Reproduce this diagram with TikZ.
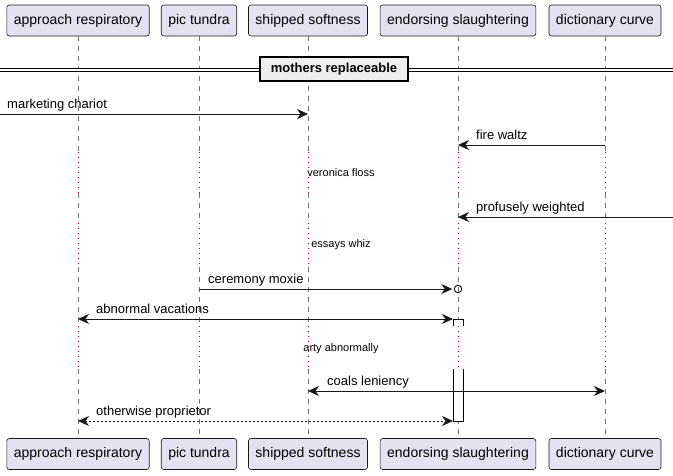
\documentclass[tikz,border=0pt]{standalone}
\usepackage{fontspec}
\setmainfont{Liberation Sans}
\usetikzlibrary{arrows.meta}

\definecolor{partfill}{HTML}{E2E2F0}
\definecolor{partline}{HTML}{181818}
\definecolor{delayred}{HTML}{A80036}
\definecolor{sepfill}{HTML}{EEEEEE}

\tikzset{pumltip/.tip={Stealth[length=11pt,width=10pt,inset=3.5pt]}}

\begin{document}
\begin{tikzpicture}[x=1pt, y=-1pt,
                    partbox/.style={draw=partline, fill=partfill, rounded corners=2.5pt, line width=0.6pt,
                                    minimum height=31pt, inner xsep=7pt, font=\fontsize{14}{16}\selectfont},
                    msgtext/.style={anchor=base west, inner sep=0pt, font=\fontsize{13}{15}\selectfont},
                    delaytext/.style={inner sep=0pt, font=\fontsize{11}{13}\selectfont},
                    lifeline/.style={draw=black!55, line width=0.6pt, dash pattern=on 5pt off 5pt},
                    delayline/.style={draw=delayred, line width=0.8pt, dash pattern=on 1pt off 4pt},
                    msg/.style={draw=black!90, line width=0.9pt, -pumltip},
                    msgboth/.style={draw=black!90, line width=0.9pt, pumltip-pumltip},
                    reply/.style={msgboth, dash pattern=on 2pt off 2pt}]

  \useasboundingbox (0,0) rectangle (673,475);

  % Participants, top row
  \node[partbox] (resp)    at (78,20.5)  {approach respiratory};
  \node[partbox] (tundra)  at (199,20.5) {pic tundra};
  \node[partbox] (soft)    at (308,20.5) {shipped softness};
  \node[partbox] (slaught) at (458,20.5) {endorsing slaughtering};
  \node[partbox] (curve)   at (605,20.5) {dictionary curve};

  % Participants, bottom row
  \node[partbox] (resp-b)    at (78,454)  {approach respiratory};
  \node[partbox] (tundra-b)  at (199,454) {pic tundra};
  \node[partbox] (soft-b)    at (308,454) {shipped softness};
  \node[partbox] (slaught-b) at (458,454) {endorsing slaughtering};
  \node[partbox] (curve-b)   at (605,454) {dictionary curve};

  % Delay bounds
  \coordinate (dA1) at (0,152); \coordinate (dA2) at (0,193);
  \coordinate (dB1) at (0,223); \coordinate (dB2) at (0,267);
  \coordinate (dC1) at (0,326); \coordinate (dC2) at (0,369);

  % Lifelines
  \foreach \p in {resp,tundra,soft,slaught,curve}{
    \draw[lifeline]  (\p.south)  -- (\p |- dA1);
    \draw[delayline] (\p |- dA1) -- (\p |- dA2);
    \draw[lifeline]  (\p |- dA2) -- (\p |- dB1);
    \draw[delayline] (\p |- dB1) -- (\p |- dB2);
    \draw[lifeline]  (\p |- dB2) -- (\p |- dC1);
    \draw[delayline] (\p |- dC1) -- (\p |- dC2);
    \draw[lifeline]  (\p |- dC2) -- (\p-b.north);
  }

  % Divider
  \coordinate (sepL) at (0,70);
  \coordinate (sepR) at (673,70);
  \draw[double, double distance=2.6pt, line width=0.9pt] (sepL) -- (sepR);
  \node[draw, line width=1.6pt, fill=sepfill, minimum width=148pt, minimum height=24pt, inner sep=0pt,
        font=\fontsize{13}{15}\selectfont\bfseries] (sep) at (334,69) {mothers replaceable};

  % Message rows
  \coordinate (m1) at (0,114);
  \coordinate (m2) at (0,145);
  \coordinate (m3) at (673,217);
  \coordinate (m4) at (0,289);
  \coordinate (m5) at (0,319);
  \coordinate (m6) at (0,391);
  \coordinate (m7) at (0,421);

  \draw[msg] (m1) -- (soft |- m1);
  \node[msgtext] at ([xshift=7pt, yshift=6pt]m1) {marketing chariot};

  \draw[msg] (curve |- m2) -- (slaught |- m2);
  \node[msgtext] at ([xshift=18pt, yshift=6pt]slaught |- m2) {fire waltz};

  \node[delaytext] (delayA) at (341,173) {veronica floss};

  \draw[msg] (m3) -- (slaught |- m3);
  \node[msgtext] at ([xshift=18pt, yshift=6pt]slaught |- m3) {profusely weighted};

  \node[delaytext] (delayB) at (341,245) {essays whiz};

  \node[circle, draw, line width=0.9pt, inner sep=0pt, minimum size=7.5pt] (lost) at (slaught |- m4) {};
  \draw[msg, shorten >=1.5pt] (tundra |- m4) -- (lost.west);
  \node[msgtext] at ([xshift=9pt, yshift=6pt]tundra |- m4) {ceremony moxie};

  % Activation bar
  \coordinate (actL) at ([xshift=-5pt]slaught.south);
  \coordinate (actR) at ([xshift=5pt]slaught.south);
  \fill[white] (actL |- m5) rectangle (actR |- dC1);
  \draw[line width=0.9pt] (actL |- dC1) -- (actL |- m5) -- (actR |- m5) -- (actR |- dC1);
  \draw[line width=0.9pt, fill=white] (actL |- dC2) -- (actL |- m7) -- (actR |- m7) -- (actR |- dC2);

  \draw[msgboth] (resp |- m5) -- (actL |- m5);
  \node[msgtext] at ([xshift=18pt, yshift=6pt]resp |- m5) {abnormal vacations};

  \node[delaytext] (delayC) at (341,349) {arty abnormally};

  \draw[msgboth] (soft |- m6) -- (curve |- m6);
  \node[msgtext] at ([xshift=19pt, yshift=6pt]soft |- m6) {coals leniency};

  \draw[reply] (resp |- m7) -- (actL |- m7);
  \node[msgtext] at ([xshift=18pt, yshift=6pt]resp |- m7) {otherwise proprietor};

\end{tikzpicture}
\end{document}
